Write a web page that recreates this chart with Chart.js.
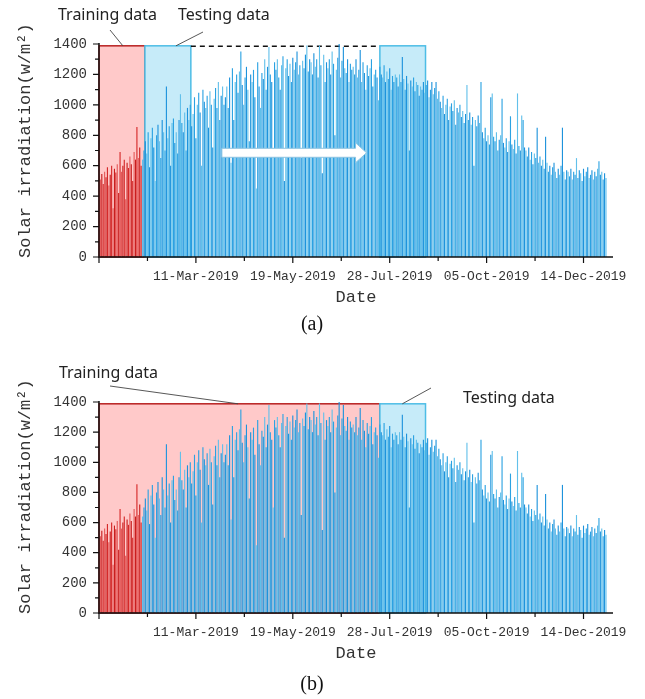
<!DOCTYPE html>
<html>
<head>
<meta charset="utf-8">
<script src="https://cdn.jsdelivr.net/npm/chart.js@4.4.0/dist/chart.umd.min.js"></script>
<style>
body { margin:0; background:#fff; }
canvas { display:block; }
</style>
</head>
<body>
<canvas id="chartA" width="645" height="350"></canvas>
<canvas id="chartB" width="645" height="349"></canvas>
<script>
// daily peak irradiation (w/m2), day 0 = 1-Jan-2019
var jan = [530,510,545,480,560,525,590,470,540,600,320,580,555,610,420,690,560,600,640,380,620,585,660,610,500,690,640,855,650,720,600]
var feb = [640,700,760,680,820,590,780,850,720,500,800,870,760,650,900,820,700,1120,780,860,600,880,910,750,820,680,900,1070]
var mar = [880,820,950,700,980,900,1000,860,940,1050,780,1000,1080,950,600,1100,1020,980,1060,850,1090,1000,720,1040,1110,980,1150,900,1060,1120,1000]
var apr = [1050,1120,980,1180,620,1240,900,1150,1200,1080,1220,1350,1130,1000,1180,1250,1100,760,1200,1150,1230,1050,450,1280,1120,980,1210,1170,1300,1100]
var may = [1250,1380,1200,1150,700,1280,1230,1300,1180,1100,1260,1320,500,1240,1300,1190,1270,1150,1310,1230,1280,1350,1200,1260,650,1290,1240,1330,1390,1220,1300]
var jun = [1280,1200,1340,1250,1300,1180,1390,1260,550,1330,1150,1280,1240,1300,1200,1350,1270,800,1230,1310,1400,1180,1290,1380,1240,1210,1300,1150,1270,1230]
var jul = [1250,1200,1300,1180,1230,1360,1150,1280,1210,1100,1260,1190,1240,1300,1120,1200,1230,1180,1030,1250,1200,1180,1260,1150,1220,1170,1240,1100,1190,1150,1200]
var aug = [1180,1120,1200,1150,1315,1170,1100,1190,1140,700,1160,1120,1180,1090,1150,1130,1060,1120,1100,1150,1080,1130,1160,1050,1100,1150,1070,1110,1150,1040,1090]
var sep = [1020,980,1060,940,1000,1040,900,990,1010,960,1030,870,980,950,1000,920,960,880,940,1130,900,950,870,920,600,900,860,930,880,1150]
var oct = [820,780,850,760,800,740,1050,1075,790,760,820,700,770,800,1040,750,720,780,690,760,925,740,710,770,680,1075,730,700,930,900,720]
var nov = [700,660,720,640,690,610,680,650,850,620,660,600,640,580,790,620,560,600,540,590,620,560,520,580,540,600,850,560,510,570]
var dec = [560,530,580,510,560,540,650,520,570,550,500,580,530,560,590,520,540,570,510,560,530,580,630,540,560,510,550,520]

var peaks = jan.concat(feb, mar, apr, may, jun, jul, aug, sep, oct, nov, dec)
var trainDays = 31

var xTickDays = [69, 138, 207, 276, 345]
var xTickLabels = ['11-Mar-2019', '19-May-2019', '28-Jul-2019', '05-Oct-2019', '14-Dec-2019']
var yTicks = [0, 200, 400, 600, 800, 1000, 1200, 1400]

var redShades = ['#d52828', '#e55a5a', '#c81e1e']
var blueShades = ['#1e93dc', '#62c0ea', '#2ba2e2']

var decor = {
  id: 'decor',
  beforeDatasetsDraw: function(chart, args, o) {
    var ctx = chart.ctx, xs = chart.scales.x, ys = chart.scales.y
    ctx.save()
    o.boxes.forEach(function(b) {
      var x0 = xs.getPixelForValue(b.from), x1 = xs.getPixelForValue(b.to)
      var y0 = ys.getPixelForValue(b.top), y1 = ys.getPixelForValue(0)
      ctx.fillStyle = b.fill
      ctx.fillRect(x0, y0, x1 - x0, y1 - y0)
      ctx.strokeStyle = b.line
      ctx.lineWidth = 1.5
      ctx.strokeRect(x0, y0, x1 - x0, y1 - y0)
    })
    if (o.dashed) {
      var d = o.dashed
      ctx.strokeStyle = '#111'
      ctx.lineWidth = 1.5
      ctx.setLineDash([5, 4])
      ctx.beginPath()
      ctx.moveTo(xs.getPixelForValue(d.from), ys.getPixelForValue(d.value))
      ctx.lineTo(xs.getPixelForValue(d.to), ys.getPixelForValue(d.value))
      ctx.stroke()
      ctx.setLineDash([])
    }
    ctx.restore()
  },
  afterDatasetsDraw: function(chart, args, o) {
    var ctx = chart.ctx, xs = chart.scales.x, ys = chart.scales.y, ca = chart.chartArea
    ctx.save()

    // arrow
    if (o.arrow) {
      var a = o.arrow
      var ax0 = xs.getPixelForValue(a.from), ax1 = xs.getPixelForValue(a.to), ay = ys.getPixelForValue(a.value)
      ctx.beginPath()
      ctx.moveTo(ax0, ay - 4.5)
      ctx.lineTo(ax1 - 11, ay - 4.5)
      ctx.lineTo(ax1 - 11, ay - 10)
      ctx.lineTo(ax1, ay)
      ctx.lineTo(ax1 - 11, ay + 10)
      ctx.lineTo(ax1 - 11, ay + 4.5)
      ctx.lineTo(ax0, ay + 4.5)
      ctx.closePath()
      ctx.fillStyle = '#fff'
      ctx.fill()
      ctx.strokeStyle = '#8cc4e2'
      ctx.lineWidth = 1
      ctx.stroke()
    }

    // axes lines and ticks
    ctx.strokeStyle = '#111'
    ctx.lineWidth = 1.5
    ctx.beginPath()
    ctx.moveTo(ca.left, ca.top - 1)
    ctx.lineTo(ca.left, ca.bottom)
    ctx.lineTo(ca.right, ca.bottom)
    ctx.stroke()
    ctx.lineWidth = 1.2
    ctx.beginPath()
    for (var v = 0; v <= 1400; v += 100) {
      var len = v % 200 ? 4 : 6
      var py = ys.getPixelForValue(v)
      ctx.moveTo(ca.left - len, py)
      ctx.lineTo(ca.left, py)
    }
    for (var k = 0; k * 34.5 <= 366; k++) {
      var l2 = k % 2 ? 4 : 6
      var px = xs.getPixelForValue(k * 34.5)
      ctx.moveTo(px, ca.bottom)
      ctx.lineTo(px, ca.bottom + l2)
    }
    ctx.stroke()

    // axis titles
    ctx.fillStyle = '#333'
    ctx.font = '17px "Liberation Mono"'
    ctx.textAlign = 'center'
    ctx.textBaseline = 'middle'
    ctx.fillText('Date', (ca.left + ca.right) / 2, ca.bottom + 40)
    ctx.save()
    ctx.translate(25, ca.bottom + 1)
    ctx.rotate(-Math.PI / 2)
    ctx.textAlign = 'left'
    ctx.fillText('Solar irradiation(w/m\u00b2)', 0, 0)
    ctx.restore()

    // panel tag
    ctx.fillStyle = '#111'
    ctx.font = '20px "Liberation Serif"'
    ctx.textAlign = 'center'
    ctx.fillText(o.tag, 312, ca.bottom + o.tagGap)

    // notes with leader lines
    ctx.strokeStyle = '#444'
    ctx.lineWidth = 0.9
    ctx.font = '16px "Noto Sans"'
    ctx.fillStyle = '#222'
    ctx.textAlign = 'left'
    ctx.textBaseline = 'alphabetic'
    o.notes.forEach(function(n) {
      ctx.fillText(n.text, n.tx, n.ty)
      ctx.beginPath()
      ctx.moveTo(n.lx, n.ly)
      ctx.lineTo(xs.getPixelForValue(n.day), ys.getPixelForValue(n.value))
      ctx.stroke()
    })
    ctx.restore()
  }
}

function makeChart(id, top, bottom, deco) {
  var canvas = document.getElementById(id)
  var pts = peaks.map(function(v, i) { return {x: i, y: v} })
  return new Chart(canvas, {
    type: 'bar',
    data: {
      datasets: [{
        data: pts,
        backgroundColor: function(c) {
          var i = c.dataIndex
          return i < trainDays ? redShades[i % 3] : blueShades[i % 3]
        },
        borderWidth: 0,
        barPercentage: 0.8,
        categoryPercentage: 1
      }]
    },
    options: {
      responsive: false,
      animation: false,
      layout: { padding: { left: 0, right: 32, top: top, bottom: 0 } },
      plugins: { legend: { display: false }, tooltip: { enabled: false }, decor: deco },
      scales: {
        x: {
          type: 'linear', min: 0, max: 366, offset: false,
          grid: { display: false, drawTicks: false },
          border: { display: false },
          afterBuildTicks: function(s) { s.ticks = xTickDays.map(function(d) { return {value: d} }) },
          afterFit: function(s) { s.height = s.chart.height - bottom },
          ticks: {
            autoSkip: false, maxRotation: 0, padding: 12,
            color: '#333', font: { family: 'Liberation Mono', size: 13 },
            callback: function(v) { return xTickLabels[xTickDays.indexOf(v)] }
          }
        },
        y: {
          min: 0, max: 1400,
          grid: { display: false, drawTicks: false },
          border: { display: false },
          afterBuildTicks: function(s) { s.ticks = yTicks.map(function(v) { return {value: v} }) },
          afterFit: function(s) { s.width = 99 },
          ticks: {
            padding: 12, color: '#333', font: { family: 'Liberation Mono', size: 14 },
            callback: function(v) { return String(v) }
          }
        }
      }
    },
    plugins: [decor]
  })
}

makeChart('chartA', 44, 257, {
  tag: '(a)', tagGap: 68,
  boxes: [
    {from: 0, to: 32.7, top: 1388, fill: '#ffc9c9', line: '#b82020'},
    {from: 32.7, to: 65.4, top: 1388, fill: '#c6ebf9', line: '#4dbde6'},
    {from: 200, to: 232.5, top: 1388, fill: '#c6ebf9', line: '#4dbde6'}
  ],
  dashed: {from: 65.4, to: 200, value: 1385},
  arrow: {from: 87.5, to: 190.5, value: 685},
  notes: [
    {text: 'Training data', tx: 58, ty: 20, lx: 110, ly: 30, day: 17, value: 1388},
    {text: 'Testing data', tx: 178, ty: 20, lx: 203, ly: 32, day: 54.8, value: 1388}
  ]
})

makeChart('chartB', 52, 263, {
  tag: '(b)', tagGap: 72,
  boxes: [
    {from: 0, to: 200, top: 1388, fill: '#ffc9c9', line: '#b82020'},
    {from: 200, to: 232.5, top: 1388, fill: '#c6ebf9', line: '#4dbde6'}
  ],
  dashed: null,
  arrow: null,
  notes: [
    {text: 'Training data', tx: 59, ty: 28, lx: 110, ly: 36, day: 99, value: 1388},
    {text: 'Testing data', tx: 463, ty: 53, lx: 431, ly: 38, day: 216, value: 1388}
  ]
})
</script>
</body>
</html>
